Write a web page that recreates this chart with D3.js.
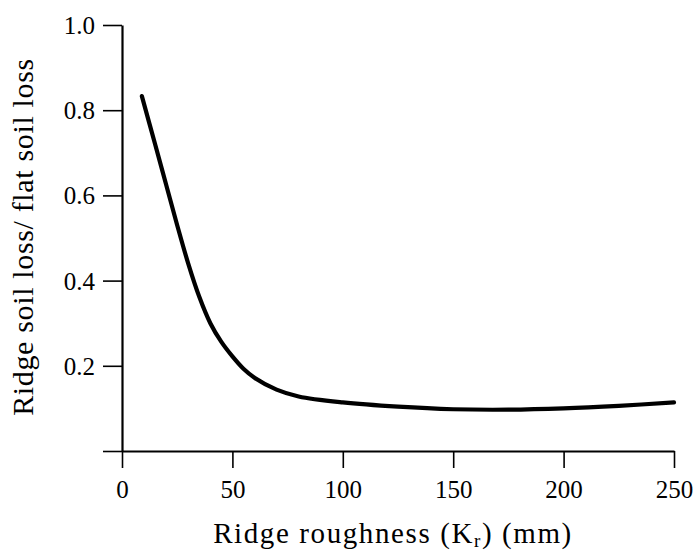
<!DOCTYPE html>
<html><head><meta charset="utf-8">
<script src="https://cdn.jsdelivr.net/npm/d3@7"></script>
<style>
html,body{margin:0;padding:0;background:#fff;}
svg{display:block;}
text{font-family:"Liberation Serif","DejaVu Serif",serif;fill:#000;}
</style></head>
<body><svg id="c" width="696" height="554"></svg>
<script>
// Data
const roughness = [9, 15, 20, 25, 30, 35, 40, 45, 50, 55, 60, 70, 80, 100, 125, 150, 175, 200, 225, 250];
const lossRatio = [0.833, 0.72, 0.625, 0.53, 0.44, 0.362, 0.3, 0.256, 0.222, 0.193, 0.172, 0.144, 0.128, 0.114, 0.104, 0.098, 0.097, 0.100, 0.106, 0.114];
const xTicks = [0, 50, 100, 150, 200, 250];
const yTicks = [0, 0.2, 0.4, 0.6, 0.8, 1.0];
const yTickLabels = ["", "0.2", "0.4", "0.6", "0.8", "1.0"];

const svg = d3.select("#c");
const x = d3.scaleLinear().domain([0, 250]).range([122, 674]);
const y = d3.scaleLinear().domain([0, 1]).range([451, 25]);

// Y axis
const gy = svg.append("g").attr("transform", `translate(${x(0)},0)`)
  .call(d3.axisLeft(y).tickValues(yTicks).tickSize(19).tickSizeOuter(0)
    .tickFormat((d, i) => yTickLabels[i]));
gy.select(".domain").attr("stroke", "#000").attr("stroke-width", 2.2);
gy.selectAll(".tick line").attr("stroke", "#000").attr("stroke-width", 1.6);
gy.selectAll(".tick text").attr("x", -27).attr("font-size", 25).attr("dy", "0.34em")
  .style("font-family", '"Liberation Serif", serif');

// X axis
const gx = svg.append("g").attr("transform", `translate(0,${y(0)})`)
  .call(d3.axisBottom(x).tickValues(xTicks).tickSize(17).tickSizeOuter(0)
    .tickFormat(d3.format("d")));
gx.select(".domain").attr("stroke", "#000").attr("stroke-width", 1.8);
gx.selectAll(".tick line").attr("stroke", "#000").attr("stroke-width", 1.6);
gx.selectAll(".tick text").attr("y", 29).attr("font-size", 25).attr("dy", "0.71em")
  .style("font-family", '"Liberation Serif", serif');

// Curve
const line = d3.line().x((d, i) => x(roughness[i])).y(d => y(d)).curve(d3.curveCatmullRom.alpha(0.5));
svg.append("path").datum(lossRatio).attr("d", line)
  .attr("fill", "none").attr("stroke", "#000").attr("stroke-width", 4.2)
  .attr("stroke-linecap", "round").attr("stroke-linejoin", "round");

// Axis titles
const xt = svg.append("text").attr("x", 393).attr("y", 543).attr("text-anchor", "middle")
  .attr("font-size", 29).style("letter-spacing", "1.6px");
xt.append("tspan").text("Ridge roughness (K");
xt.append("tspan").attr("font-size", 19).attr("dy", 4).text("r");
xt.append("tspan").attr("dy", -4).text(") (mm)");

svg.append("text").attr("transform", "translate(33,237) rotate(-90)")
  .attr("text-anchor", "middle").attr("font-size", 30).style("letter-spacing", "0.65px")
  .text("Ridge soil loss/ flat soil loss");
</script></body></html>
